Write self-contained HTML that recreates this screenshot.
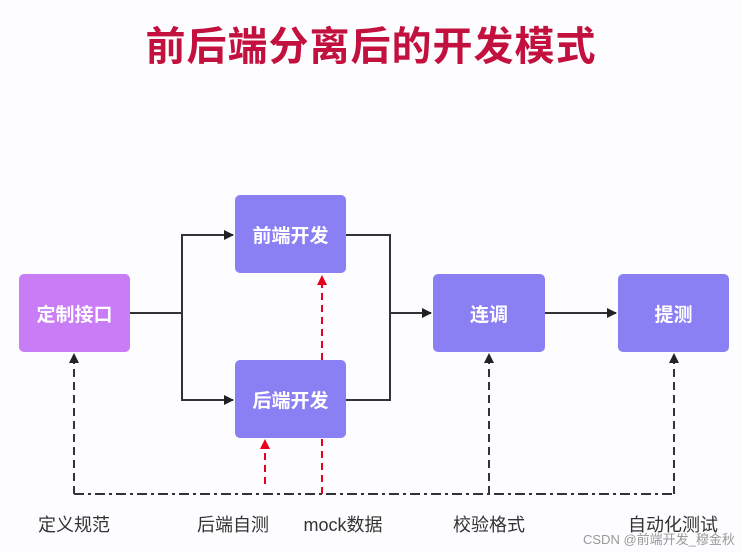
<!DOCTYPE html>
<html><head><meta charset="utf-8"><style>
body{margin:0;width:742px;height:552px;background:#fdfcfe;overflow:hidden;position:relative;font-family:"Liberation Sans","Noto Sans CJK SC",sans-serif}
.t{position:absolute;left:0;width:742px;top:14px;text-align:center;font-size:40px;font-weight:bold;color:#c3113f;letter-spacing:1px}
.b{position:absolute;border-radius:5px;color:#fff;font-weight:bold;font-size:19px;display:flex;align-items:center;justify-content:center;background:#8a80f4}
.l{position:absolute;top:511px;font-size:18px;color:#333;transform:translateX(-50%);white-space:nowrap}
</style></head><body>
<div class="t">前后端分离后的开发模式</div>
<svg width="742" height="552" style="position:absolute;left:0;top:0">
<defs>
<marker id="a" markerWidth="10" markerHeight="10" refX="9" refY="5" orient="auto" markerUnits="userSpaceOnUse"><path d="M0,0 L10,5 L0,10z" fill="#222"/></marker>
<marker id="r" markerWidth="10" markerHeight="12" refX="9" refY="5" orient="auto" markerUnits="userSpaceOnUse"><path d="M0,0 L10,5 L0,10z" fill="#e8001c"/></marker>
</defs>
<g stroke="#333" stroke-width="2" fill="none">
<path d="M130,313 H182 V235 H233" marker-end="url(#a)"/>
<path d="M182,313 V400 H233" marker-end="url(#a)"/>
<path d="M346,235 H390 V400 H346"/>
<path d="M390,313 H431" marker-end="url(#a)"/>
<path d="M545,313 H616" marker-end="url(#a)"/>
<path d="M74,494 H674" stroke-dasharray="10,4,3,4"/>
<path d="M74,494 V354" stroke-dasharray="8,5" marker-end="url(#a)"/>
<path d="M489,494 V354" stroke-dasharray="8,5" marker-end="url(#a)"/>
<path d="M674,494 V354" stroke-dasharray="8,5" marker-end="url(#a)"/>
</g>
<g stroke="#e8001c" stroke-width="2" fill="none" stroke-dasharray="7,5">
<path d="M322,494 V438 M322,360 V276" marker-end="url(#r)"/>
<path d="M265,484 V440" marker-end="url(#r)"/>
</g>
</svg>
<div class="b" style="left:19px;top:274px;width:111px;height:78px;background:#c87cf6">定制接口</div>
<div class="b" style="left:235px;top:195px;width:111px;height:78px">前端开发</div>
<div class="b" style="left:235px;top:360px;width:111px;height:78px">后端开发</div>
<div class="b" style="left:433px;top:274px;width:112px;height:78px">连调</div>
<div class="b" style="left:618px;top:274px;width:111px;height:78px">提测</div>
<div class="l" style="left:74px">定义规范</div>
<div class="l" style="left:233px">后端自测</div>
<div class="l" style="left:343px">mock数据</div>
<div class="l" style="left:489px">校验格式</div>
<div class="l" style="left:673px">自动化测试</div>
<div style="position:absolute;left:583px;top:529px;font-size:13px;color:#999">CSDN @前端开发_穆金秋</div>
</body></html>
